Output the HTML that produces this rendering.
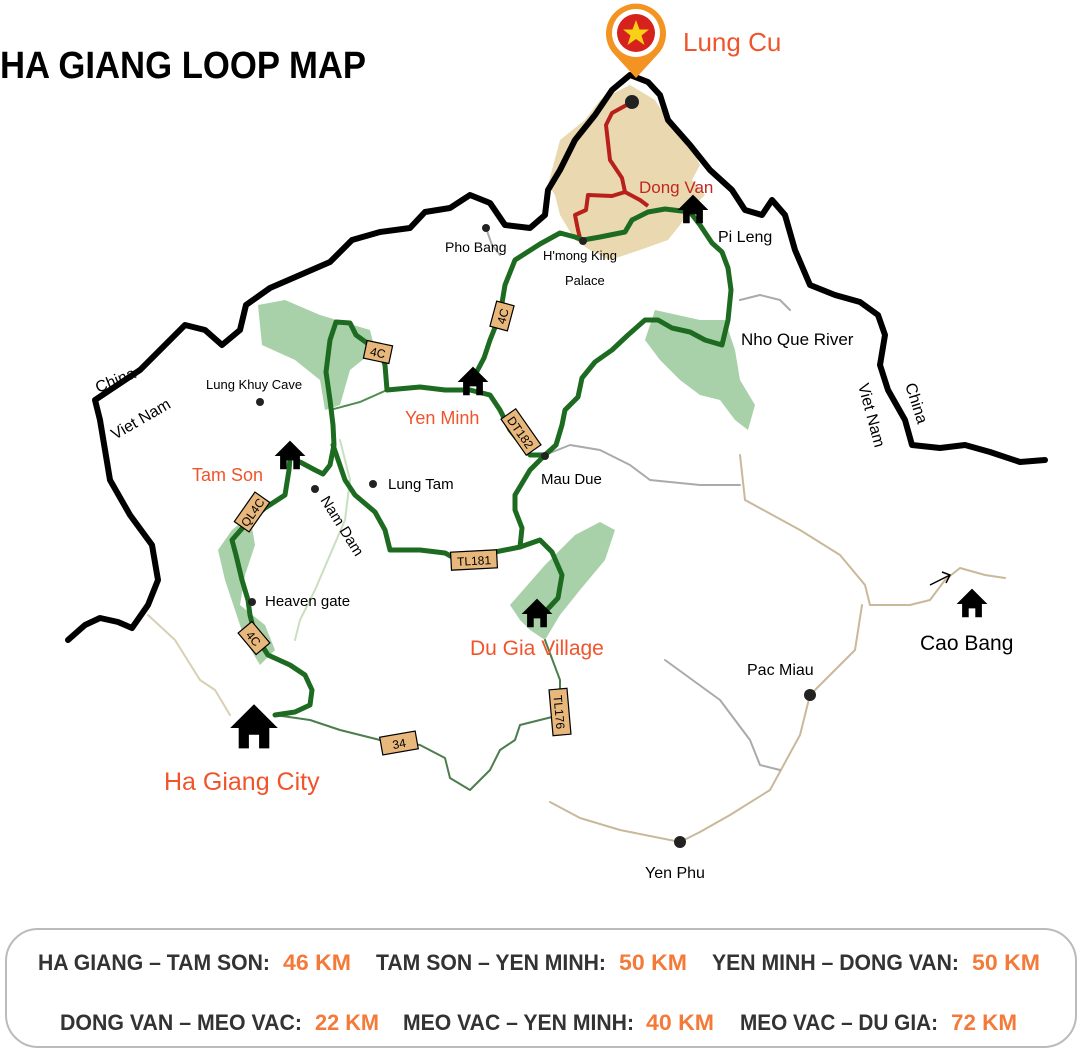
<!DOCTYPE html>
<html><head><meta charset="utf-8"><style>
html,body{margin:0;padding:0;background:#fff}
svg{display:block}
text{font-family:"Liberation Sans",sans-serif}
</style></head><body>
<svg width="1080" height="1052" viewBox="0 0 1080 1052" xmlns="http://www.w3.org/2000/svg">
<path d="M560,140 L585,120 L600,100 L630,85 L655,100 L668,120 L690,145 L700,165 L692,180 L705,195 L690,210 L680,225 L668,240 L640,250 L610,260 L590,250 L575,240 L560,215 L555,195 L548,185 Z" fill="#ead9b0"/>
<g fill="#a9d1a9">
<path d="M258,305 L285,300 L320,315 L370,330 L375,350 L350,370 L340,405 L325,410 L320,380 L295,360 L262,345 Z"/>
<path d="M218,550 L232,530 L250,515 L255,545 L245,575 L240,605 L265,625 L275,650 L260,665 L245,640 L235,610 L225,580 Z"/>
<path d="M510,605 L545,565 L575,535 L600,522 L615,530 L605,560 L580,590 L560,615 L545,640 L530,630 L520,620 Z"/>
<path d="M655,310 L700,320 L725,320 L735,350 L740,380 L755,405 L748,430 L735,420 L720,400 L700,395 L680,380 L660,360 L645,340 Z"/>
</g>
<g fill="none" stroke-linecap="round" stroke-linejoin="round">
<path d="M486,228 L492,245 L500,255" stroke="#aaa" stroke-width="2"/>
<path d="M740,300 L760,295 L780,300 L790,310" stroke="#aaa" stroke-width="2"/>
<path d="M545,455 L570,445 L600,450 L630,465 L650,480 L700,485 L740,485" stroke="#aaa" stroke-width="2"/>
<path d="M740,455 L745,500 L800,530 L840,555 L865,585 L870,605 L910,605 L930,600 L945,580 L960,568 L985,575 L1005,578" stroke="#c9b89a" stroke-width="2"/>
<path d="M862,605 L855,650 L830,675 L810,695 L800,735 L770,790 L730,815 L700,832 L680,842 L620,830 L580,818 L550,802" stroke="#c9b89a" stroke-width="2"/>
<path d="M665,660 L720,700 L750,740 L760,765 L780,770" stroke="#aaa" stroke-width="2"/>
<path d="M148,615 L175,640 L200,680 L215,690 L230,715" stroke="#d8cfb4" stroke-width="2"/>
<path d="M340,440 L350,480 L345,520 L330,555 L315,590 L300,620 L295,640" stroke="#c8e0c0" stroke-width="2"/>
<path d="M275,715 L310,720 L340,730 L380,740 L420,745 L445,758 L450,778 L470,790 L490,770 L500,750 L515,740 L520,725 L540,720 L560,715 L560,680 L545,640" stroke="#4d7d4d" stroke-width="2"/>
<path d="M330,410 L360,402 L387,390" stroke="#4d8d4d" stroke-width="2" stroke-dasharray="2,1"/>
</g>
<path d="M68,640 L85,625 L100,618 L118,622 L132,628 L148,605 L158,580 L152,545 L130,515 L110,480 L105,450 L100,420 L95,400 L110,390 L140,370 L165,345 L185,325 L205,330 L222,345 L240,330 L246,305 L270,288 L300,275 L330,262 L352,240 L380,232 L410,228 L425,212 L450,208 L470,195 L490,203 L505,225 L530,228 L545,215 L548,190 L560,170 L575,140 L595,115 L612,90 L630,75 L648,82 L660,95 L668,120 L690,145 L710,170 L732,190 L745,210 L762,215 L772,200 L785,215 L795,250 L810,285 L835,295 L860,302 L878,315 L885,335 L880,365 L888,390 L905,420 L912,445 L940,448 L965,445 L990,452 L1020,462 L1045,460" fill="none" stroke="#000" stroke-width="6" stroke-linejoin="round" stroke-linecap="round"/>
<path d="M632,102 L612,113 L606,125 L610,160 L622,178 L625,192 L612,196 L588,195 L586,210 L575,215 L578,230 L580,238 M625,192 L640,200 L648,206" fill="none" stroke="#b8201c" stroke-width="4" stroke-linejoin="round"/>
<g fill="none" stroke="#1d6b21" stroke-width="5" stroke-linejoin="round" stroke-linecap="round">
<path d="M275,715 L295,712 L310,705 L312,690 L305,675 L290,665 L268,655 L255,635 L250,615 L248,600 L242,580 L236,555 L232,540 L245,525 L265,508 L285,495 L289,470 L290,458"/>
<path d="M300,462 L315,470 L323,474 L330,465 L334,445 L333,425 L330,400 L326,372 L330,340 L336,322 L350,323 L356,335 L367,343 L380,350 L385,365 L387,390 L420,387 L445,390 L470,390 L490,395 L500,410 L510,430 L530,455 L545,455 L556,445 L562,425 L565,410 L578,397 L582,378 L595,362 L612,350 L628,335 L645,320 L658,320 L672,328 L690,332 L705,340 L722,345 L728,320 L731,290 L728,268 L722,252 L712,243 L700,225 L690,212 L665,209 L648,212 L632,220 L625,232 L600,237 L583,240 L575,237 L560,233 L540,244 L515,260 L505,285 L500,315 L490,340 L484,358 L475,375"/>
<path d="M333,445 L345,480 L355,495 L375,512 L385,530 L390,550 L420,550 L445,553 L460,561 L490,553 L520,547 L540,540 L552,552 L562,575 L558,598 L545,612"/>
<path d="M520,547 L522,528 L515,510 L515,495 L530,470 L545,455"/>
</g>
<g font-size="12" text-anchor="middle" fill="#000">
<g transform="translate(378,352) rotate(12)"><rect x="-13" y="-9" width="26" height="18" fill="#e8b77b" stroke="#000" stroke-width="1.2"/><text y="5">4C</text></g>
<g transform="translate(502,316) rotate(-75)"><rect x="-13" y="-9" width="26" height="18" fill="#e8b77b" stroke="#000" stroke-width="1.2"/><text y="5">4C</text></g>
<g transform="translate(521,432) rotate(55)"><rect x="-22" y="-9" width="44" height="18" fill="#e8b77b" stroke="#000" stroke-width="1.2"/><text y="5">DT182</text></g>
<g transform="translate(474,560) rotate(-3)"><rect x="-23" y="-9" width="46" height="18" fill="#e8b77b" stroke="#000" stroke-width="1.2"/><text y="5">TL181</text></g>
<g transform="translate(252,512) rotate(-55)"><rect x="-18" y="-9" width="36" height="18" fill="#e8b77b" stroke="#000" stroke-width="1.2"/><text y="5">QL4C</text></g>
<g transform="translate(254,638) rotate(50)"><rect x="-14" y="-9" width="28" height="18" fill="#e8b77b" stroke="#000" stroke-width="1.2"/><text y="5">4C</text></g>
<g transform="translate(399,743) rotate(-10)"><rect x="-18" y="-9" width="36" height="18" fill="#e8b77b" stroke="#000" stroke-width="1.2"/><text y="5">34</text></g>
<g transform="translate(560,712) rotate(85)"><rect x="-23" y="-9" width="46" height="18" fill="#e8b77b" stroke="#000" stroke-width="1.2"/><text y="5">TL176</text></g>
</g>
<g fill="#222">
<circle cx="632" cy="102" r="7"/>
<circle cx="486" cy="228" r="4"/>
<circle cx="583" cy="241" r="4"/>
<circle cx="260" cy="402" r="4"/>
<circle cx="373" cy="484" r="4"/>
<circle cx="315" cy="489" r="4"/>
<circle cx="545" cy="456" r="4"/>
<circle cx="252" cy="602" r="4"/>
<circle cx="810" cy="695" r="6"/>
<circle cx="680" cy="842" r="6"/>
</g>
<defs><path id="h" d="M0,-14 L14,0 L9,0 L9,12 L3,12 L3,4 L-3,4 L-3,12 L-9,12 L-9,0 L-14,0 Z"/></defs>
<g fill="#000">
<use href="#h" transform="translate(290,456) scale(1.1)"/>
<use href="#h" transform="translate(473,382) scale(1.1)"/>
<use href="#h" transform="translate(693,210) scale(1.1)"/>
<use href="#h" transform="translate(537,614) scale(1.1)"/>
<use href="#h" transform="translate(972,604) scale(1.1)"/>
<use href="#h" transform="translate(254,728) scale(1.7)"/>
</g>
<path d="M930,585 L950,575 M942,572 L950,575 L946,583" fill="none" stroke="#000" stroke-width="1.5"/>
<path d="M636,78 L614,54 A30,30 0 1 1 658,54 Z" fill="#f39322"/>
<circle cx="636" cy="33" r="24" fill="#fff"/>
<circle cx="636" cy="33" r="19" fill="#d6211c"/>
<path d="M636,20 L639.5,29.5 L649,29.5 L641.5,35.5 L644.5,45 L636,39 L627.5,45 L630.5,35.5 L623,29.5 L632.5,29.5 Z" fill="#f7d116"/>
<text x="0" y="78" font-size="38" font-weight="bold" textLength="366" lengthAdjust="spacingAndGlyphs">HA GIANG LOOP MAP</text>
<text x="683" y="51" font-size="26" fill="#f0542a">Lung Cu</text>
<text x="639" y="193" font-size="17" fill="#c0281f">Dong Van</text>
<text x="718" y="242" font-size="16">Pi Leng</text>
<text x="445" y="252" font-size="14">Pho Bang</text>
<text x="543" y="260" font-size="13">H'mong King</text>
<text x="565" y="285" font-size="13">Palace</text>
<text x="741" y="345" font-size="17">Nho Que River</text>
<text x="206" y="389" font-size="13">Lung Khuy Cave</text>
<text x="405" y="424" font-size="18" fill="#f0542a">Yen Minh</text>
<text x="192" y="481" font-size="18" fill="#f0542a">Tam Son</text>
<text x="388" y="489" font-size="15">Lung Tam</text>
<text x="541" y="484" font-size="15">Mau Due</text>
<text x="0" y="0" font-size="15" transform="translate(320,500) rotate(58)">Nam Dam</text>
<text x="265" y="606" font-size="15">Heaven gate</text>
<text x="470" y="655" font-size="21" fill="#f0542a">Du Gia Village</text>
<text x="747" y="675" font-size="16">Pac Miau</text>
<text x="920" y="650" font-size="21">Cao Bang</text>
<text x="164" y="790" font-size="25" fill="#f0542a">Ha Giang City</text>
<text x="645" y="878" font-size="16">Yen Phu</text>
<text x="0" y="0" font-size="16" transform="translate(98,393) rotate(-22)">China</text>
<text x="0" y="0" font-size="16" transform="translate(115,440) rotate(-30)">Viet Nam</text>
<text x="0" y="0" font-size="16" transform="translate(905,385) rotate(72)">China</text>
<text x="0" y="0" font-size="16" transform="translate(858,385) rotate(75)">Viet Nam</text>
<rect x="6" y="929" width="1070" height="118" rx="32" fill="#fff" stroke="#bbb" stroke-width="2"/>
<g font-size="22" font-weight="bold" fill="#333">
<text x="38" y="970" textLength="232" lengthAdjust="spacingAndGlyphs">HA GIANG – TAM SON:</text>
<text x="283" y="970" fill="#f47a3a" textLength="68" lengthAdjust="spacingAndGlyphs">46 KM</text>
<text x="376" y="970" textLength="230" lengthAdjust="spacingAndGlyphs">TAM SON – YEN MINH:</text>
<text x="619" y="970" fill="#f47a3a" textLength="68" lengthAdjust="spacingAndGlyphs">50 KM</text>
<text x="712" y="970" textLength="247" lengthAdjust="spacingAndGlyphs">YEN MINH – DONG VAN:</text>
<text x="972" y="970" fill="#f47a3a" textLength="68" lengthAdjust="spacingAndGlyphs">50 KM</text>
<text x="60" y="1030" textLength="242" lengthAdjust="spacingAndGlyphs">DONG VAN – MEO VAC:</text>
<text x="315" y="1030" fill="#f47a3a" textLength="64" lengthAdjust="spacingAndGlyphs">22 KM</text>
<text x="403" y="1030" textLength="231" lengthAdjust="spacingAndGlyphs">MEO VAC – YEN MINH:</text>
<text x="646" y="1030" fill="#f47a3a" textLength="68" lengthAdjust="spacingAndGlyphs">40 KM</text>
<text x="740" y="1030" textLength="198" lengthAdjust="spacingAndGlyphs">MEO VAC – DU GIA:</text>
<text x="951" y="1030" fill="#f47a3a" textLength="66" lengthAdjust="spacingAndGlyphs">72 KM</text>
</g>
</svg>
</body></html>
